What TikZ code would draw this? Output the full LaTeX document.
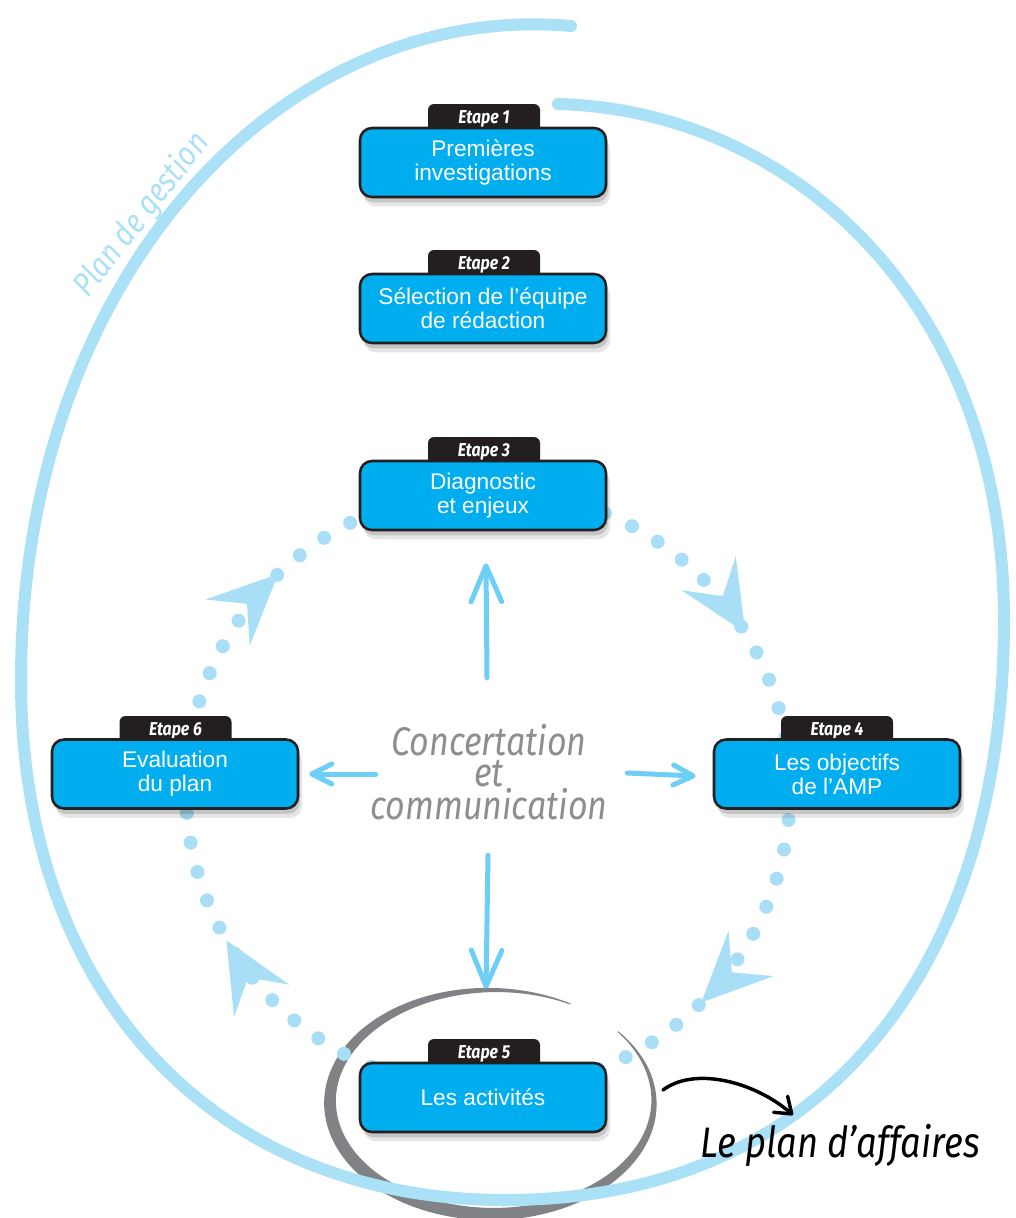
\documentclass[tikz,border=0pt]{standalone}
\usepackage{fontspec}
\newfontfamily\boxfont{Liberation Sans}
\newfontfamily\handfont[FakeStretch=0.85]{Fira Sans}
\usetikzlibrary{arrows.meta,shadows,decorations.markings,calc}
\pgfdeclarelayer{background}
\pgfsetlayers{background,main}
\definecolor{boxfill}{RGB}{0,174,239}
\definecolor{boxline}{RGB}{35,31,32}
\definecolor{tabfill}{RGB}{35,31,32}
\definecolor{ringcol}{RGB}{171,225,247}
\definecolor{dotcol}{RGB}{168,222,246}
\definecolor{arrowcol}{RGB}{109,207,246}
\definecolor{swooshcol}{RGB}{128,130,133}
\definecolor{ctrgray}{RGB}{140,142,145}
\tikzset{
  stepbox/.style={draw=boxline, line width=1.9pt, fill=boxfill, rounded corners=9pt,
    minimum width=184.5pt, minimum height=51.75pt, inner sep=0pt, text=white, align=center,
    font=\boxfont\fontsize{17}{18}\selectfont,
    drop shadow={shadow xshift=3pt, shadow yshift=-7pt, opacity=0.10, fill=black},
    drop shadow={shadow xshift=1.5pt, shadow yshift=-4pt, opacity=0.14, fill=black}},
  steptab/.style={fill=tabfill, rounded corners=4.5pt, minimum width=84pt, minimum height=22.5pt,
    inner sep=0pt, text=white, font=\handfont\itshape\bfseries\fontsize{14}{14}\selectfont},
  dotline/.style={draw=dotcol, line width=10.5pt, line cap=round, dash pattern=on 0pt off 22.5pt},
  withdart/.style={postaction={decorate}, decoration={markings, mark=at position #1 with
    {\fill[dotcol] (0,0) -- (-70,32) -- (-43,0) -- (-70,-32) -- cycle;}}},
  carrow/.style={draw=arrowcol, line width=3.75pt, line cap=round},
  bigtip/.style={-{Straight Barb[round,length=27pt,width=23pt]}},
  sidetip/.style={-{Straight Barb[round,length=15pt,width=15pt]}},
  ring/.style={draw=ringcol, line width=9pt, line cap=round},
  ctrtext/.style={text=ctrgray, font=\handfont\itshape\fontsize{30}{23}\selectfont, align=center,
    minimum width=180pt, minimum height=112.5pt, inner sep=0pt},
}
\begin{document}
\begin{tikzpicture}[x=0.75pt,y=-0.75pt]
\useasboundingbox (0,0) rectangle (1016,1218);

% tabs
\node[steptab] (tab1) at (484,119) {Etape 1};
\node[steptab] (tab2) at (484,265) {Etape 2};
\node[steptab] (tab3) at (484,452) {Etape 3};
\node[steptab] (tab4) at (837,731) {Etape 4};
\node[steptab] (tab5) at (484,1054) {Etape 5};
\node[steptab] (tab6) at (175.5,731) {Etape 6};

% boxes
\node[stepbox] (box1) at (483,162.5) {Premières\\investigations};
\node[stepbox] (box2) at (483,308.5) {Sélection de l’équipe\\de rédaction};
\node[stepbox] (box3) at (483,495.5) {Diagnostic\\et enjeux};
\node[stepbox] (box4) at (837,774) {Les objectifs\\de l’AMP};
\node[stepbox] (box5) at (483,1097.5) {Les activités};
\node[stepbox] (box6) at (175,774) {Evaluation\\du plan};

% centre
\node[ctrtext] (ctr) at (489,772) {Concertation\\et\\communication};
\draw[carrow,bigtip] ($(ctr.north)+(-2,-19)$) -- ($(box3.south)+(3,32)$);
\draw[carrow,sidetip] ($(ctr.west)+(7,2)$) -- ($(box6.east)+(10,0)$);
\draw[carrow,sidetip] ($(ctr.east)+(18,1)$) -- ($(box4.west)+(-17,2)$);
\draw[carrow,bigtip] ($(ctr.south)+(-1,8)$) -- ($(box5.north)+(3,-73)$);

% labels
\node[rotate=52, text=ringcol, font=\handfont\itshape\fontsize{25}{25}\selectfont] (pdg) at (142,215) {Plan de gestion};
\node[font=\handfont\itshape\fontsize{32}{32}\selectfont] (lpa) at (840,1145) {Le plan d’affaires};
\coordinate (lpastart) at (663,1090);
\draw[line width=2.6pt, line cap=round, -{Straight Barb[round,length=11pt,width=16pt]}]
  (lpastart) .. controls (695,1066) and (755,1082) .. ($(lpa)+(-47,-30)$);

\begin{pgfonlayer}{background}
% grey swoosh round step 5
\fill[swooshcol] plot[domain=61:399, samples=140, variable=\t]
  ({492+(162+0.5*(1+12*sin((\t-61)*0.53254)))*cos(\t)}, {1102-(112+0.5*(1+12*sin((\t-61)*0.53254)))*sin(\t)})
  -- plot[domain=399:61, samples=140, variable=\t]
  ({492+(162-0.5*(1+12*sin((\t-61)*0.53254)))*cos(\t)}, {1102-(112-0.5*(1+12*sin((\t-61)*0.53254)))*sin(\t)})
  -- cycle;
% big spiral
\draw[ring] (571,26) .. controls (280,0) and (21,280) .. (21,680)
  .. controls (21,1000) and (220,1200) .. (505,1200)
  .. controls (830,1200) and (1004,960) .. (1004,620)
  .. controls (1004,300) and (790,110) .. (558,104);
% dotted cycle
\draw[dotline, withdart=0.65] ($(box3)+(5,-5.5)$) .. controls (655,490) and (790,624) .. ($(box4)+(-47,16)$);
\draw[dotline, withdart=0.5] ($(box4)+(-47,16)$) .. controls (790,956) and (655,1090) .. ($(box5)+(5,-7.5)$);
\draw[dotline, withdart=0.667] ($(box5)+(5,-7.5)$) .. controls (321,1090) and (186,956) .. ($(box6)+(11,16)$);
\draw[dotline, withdart=0.51] ($(box6)+(11,16)$) .. controls (186,624) and (321,490) .. ($(box3)+(5,-5.5)$);
\end{pgfonlayer}
\end{tikzpicture}
\end{document}
